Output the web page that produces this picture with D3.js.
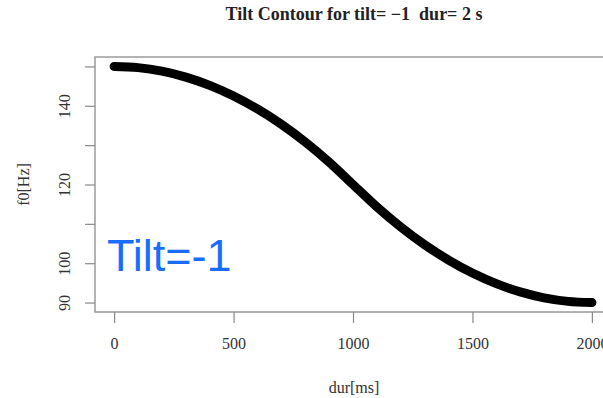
<!DOCTYPE html>
<html>
<head>
<meta charset="utf-8">
<script src="https://cdn.jsdelivr.net/npm/d3@7"></script>
<style>
  html, body { margin: 0; padding: 0; background: #fff; }
  svg { display: block; }
  text { white-space: pre; }
</style>
</head>
<body>
<svg id="chart" width="603" height="398"></svg>
<script>
// Tilt contour: f0 (Hz) sampled every 100 ms over a 2 s fall
const durMs = [0, 100, 200, 300, 400, 500, 600, 700, 800, 900, 1000,
               1100, 1200, 1300, 1400, 1500, 1600, 1700, 1800, 1900, 2000];
const f0Hz  = [150, 149.7, 148.8, 147.3, 145.2, 142.5, 139.2, 135.3, 130.8, 125.7, 120,
               114.3, 109.2, 104.7, 100.8, 97.5, 94.8, 92.7, 91.2, 90.3, 90];

const xTicks = [0, 500, 1000, 1500, 2000];
const yTicks = [90, 100, 110, 120, 130, 140, 150];
const yTickLabels = [90, 100, 120, 140];

const titleText = "Tilt Contour for tilt= \u22121  dur= 2 s";
const xTitle = "dur[ms]";
const yTitle = "f0[Hz]";
const noteText = "Tilt=-1";

const svg = d3.select("#chart");
const serif = "'Liberation Serif', 'Times New Roman', serif";

const box = { left: 95, right: 611, top: 57, bottom: 312 };

const x = d3.scaleLinear().domain([-80, 2080]).range([box.left, box.right]);
const y = d3.scaleLinear().domain([87.6, 152.4]).range([box.bottom, box.top]);

// plot frame
svg.append("rect")
  .attr("x", box.left).attr("y", box.top)
  .attr("width", box.right - box.left).attr("height", box.bottom - box.top)
  .attr("fill", "none").attr("stroke", "#9a9a9a").attr("stroke-width", 1.5);

// x axis
const xAxis = svg.append("g")
  .attr("transform", `translate(0,${box.bottom})`)
  .call(d3.axisBottom(x).tickValues(xTicks).tickSize(11).tickPadding(15).tickFormat(d3.format("d")));
xAxis.select(".domain").remove();
xAxis.selectAll(".tick line").attr("stroke", "#8a8a8a").attr("stroke-width", 1.2);
xAxis.selectAll(".tick text")
  .attr("font-family", serif).attr("font-size", 16).attr("fill", "#333");

// y axis
const yAxis = svg.append("g")
  .attr("transform", `translate(${box.left},0)`)
  .call(d3.axisLeft(y).tickValues(yTicks).tickSize(10)
    .tickFormat(d => yTickLabels.includes(d) ? d : ""));
yAxis.select(".domain").remove();
yAxis.selectAll(".tick line").attr("stroke", "#8a8a8a").attr("stroke-width", 1.2);
yAxis.selectAll(".tick text")
  .attr("font-family", serif).attr("font-size", 16).attr("fill", "#333")
  .attr("text-anchor", "middle")
  .attr("x", 0).attr("dy", 0)
  .attr("transform", "translate(-31,0) rotate(-90)")
  .attr("dominant-baseline", "central");

// contour line
const line = d3.line()
  .x((d, i) => x(durMs[i]))
  .y(d => y(d))
  .curve(d3.curveMonotoneX);

svg.append("path")
  .datum(f0Hz)
  .attr("d", line)
  .attr("fill", "none")
  .attr("stroke", "#000")
  .attr("stroke-width", 9)
  .attr("stroke-linecap", "round")
  .attr("stroke-linejoin", "round");

// titles
svg.append("text")
  .attr("x", 354).attr("y", 20)
  .attr("text-anchor", "middle")
  .attr("font-family", serif).attr("font-weight", "bold").attr("font-size", 18)
  .attr("fill", "#222")
  .text(titleText);

svg.append("text")
  .attr("x", 354).attr("y", 393)
  .attr("text-anchor", "middle")
  .attr("font-family", serif).attr("font-size", 16).attr("fill", "#333")
  .text(xTitle);

svg.append("text")
  .attr("transform", `translate(29,${(box.top + box.bottom) / 2}) rotate(-90)`)
  .attr("text-anchor", "middle")
  .attr("font-family", serif).attr("font-size", 16).attr("fill", "#333")
  .text(yTitle);

// annotation
svg.append("text")
  .attr("x", 107).attr("y", 271)
  .attr("font-family", "'Liberation Sans', Arial, sans-serif")
  .attr("font-size", 45)
  .attr("fill", "#1a6cff")
  .text(noteText);
</script>
</body>
</html>
